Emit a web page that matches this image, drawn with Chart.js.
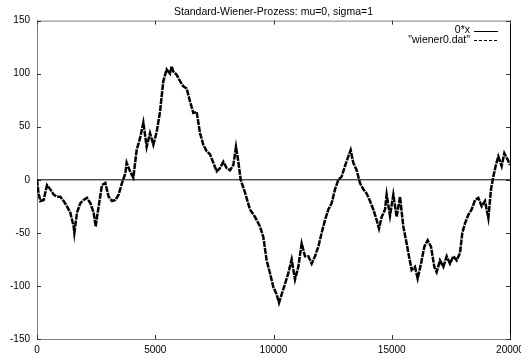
<!DOCTYPE html>
<html>
<head>
<meta charset="utf-8">
<script src="https://cdn.jsdelivr.net/npm/chart.js@4"></script>
<style>
  html, body { margin: 0; padding: 0; background: #fff; }
  #wrap { width: 521px; height: 362px; }
</style>
</head>
<body>
<div id="wrap"><canvas id="chartCanvas" width="521" height="362"></canvas></div>
<script>
// --- Daten ---
const titel = "Standard-Wiener-Prozess: mu=0, sigma=1";
const xTicks = [0, 5000, 10000, 15000, 20000];
const yTicks = [-150, -100, -50, 0, 50, 100, 150];
const nullLinieX = [0, 20000];
const nullLinieY = [0, 0];

const schritte = [
  0, 60, 141, 282, 423, 564, 705, 846, 987, 1128, 1268, 1409, 1550, 1579, 1691, 1832, 1973,
  2114, 2255, 2396, 2480, 2607, 2748, 2889, 3030, 3171, 3312, 3453, 3594, 3735,
  3791, 3932, 4073, 4214, 4355, 4496, 4637,
  4778, 4919, 5060, 5201, 5342, 5483, 5624, 5694, 5765, 5906, 6047, 6187, 6328, 6469, 6610,
  6751, 6892, 7033, 7174, 7315, 7456, 7597, 7738, 7879, 8020, 8161, 8302, 8414, 8513, 8612,
  8795, 9006, 9218,
  9429, 9570, 9711, 9852, 9993, 10134, 10233, 10345, 10486, 10627, 10768, 10909, 11050,
  11191, 11332, 11473, 11614, 11755, 11896, 12037, 12178, 12319, 12460, 12600, 12741, 12882,
  13023, 13164, 13263, 13375, 13516, 13657, 13798, 13939, 14080, 14221, 14363, 14461, 14574, 14715,
  14785, 14926, 15067, 15208, 15349, 15489, 15630, 15729, 15842, 15983, 16096, 16237, 16378,
  16519, 16660, 16800, 16899, 17040, 17181, 17322, 17463, 17604, 17745, 17886, 17984, 18097,
  18238, 18379, 18520, 18661, 18802, 18943, 19084, 19197, 19295, 19394, 19506, 19647, 19760,
  19901, 20000
];
const wiener = [
  0, -12, -20, -19, -5, -9, -14, -16, -16, -20, -25, -31, -44, -50, -31, -22, -19,
  -17, -22, -31, -44, -25, -5, -3, -16, -20, -19, -14, -3, 6,
  16, 8, 2, 28, 39, 54, 31,
  44, 33, 45, 64, 93, 104, 100, 107, 102, 99, 93, 88, 86, 74, 63,
  64, 44, 33, 27, 24, 16, 8, 11, 17, 11, 9, 14, 31, 17, 0,
  -12, -28, -35,
  -44, -54, -76, -88, -101, -108, -116, -108, -98, -88, -75, -94, -82,
  -60, -72, -72, -79, -72, -63, -50, -38, -28, -22, -9, 0, 3,
  13, 22, 28, 16, 9, -3, -9, -13, -20, -28, -38, -46, -35, -28,
  -14, -34, -14, -35, -16, -44, -60, -72, -85, -82, -93, -79, -63,
  -57, -63, -82, -87, -76, -82, -72, -79, -72, -76, -69, -50, -41,
  -33, -28, -19, -17, -25, -20, -36, -9, 3, 13, 22, 13, 25,
  19, 14
];

const schrift = "'Liberation Sans', Arial, Helvetica, sans-serif";

// --- Rahmen und Ticks im gnuplot-Stil ---
const rahmenPlugin = {
  id: "rahmen",
  beforeDatasetsDraw(chart) {
    const { ctx, chartArea: a, scales } = chart;
    ctx.save();
    ctx.lineWidth = 1;
    ctx.strokeStyle = "#808080";
    ctx.beginPath();
    ctx.moveTo(a.right, a.top + 0.5);
    ctx.lineTo(a.left + 0.5, a.top + 0.5);
    ctx.lineTo(a.left + 0.5, a.bottom + 0.5);
    ctx.lineTo(a.right, a.bottom + 0.5);
    ctx.stroke();
    ctx.strokeStyle = "#000";
    ctx.beginPath();
    ctx.moveTo(a.right + 0.5, a.top);
    ctx.lineTo(a.right + 0.5, a.bottom + 1);
    ctx.stroke();

    ctx.strokeStyle = "#333";
    const tl = 4;
    ctx.beginPath();
    xTicks.forEach(v => {
      const px = Math.round(scales.x.getPixelForValue(v)) + 0.5;
      ctx.moveTo(px, a.bottom);
      ctx.lineTo(px, a.bottom - tl);
      ctx.moveTo(px, a.top);
      ctx.lineTo(px, a.top + tl);
    });
    yTicks.forEach(v => {
      const py = Math.round(scales.y.getPixelForValue(v)) + 0.5;
      ctx.moveTo(a.left, py);
      ctx.lineTo(a.left + tl, py);
      ctx.moveTo(a.right, py);
      ctx.lineTo(a.right - tl, py);
    });
    ctx.stroke();
    ctx.restore();
  },
  afterDraw(chart) {
    // Legende wie bei gnuplot: Text rechtsbuendig, Linienmuster rechts daneben
    const { ctx, chartArea: a } = chart;
    ctx.save();
    ctx.font = "10.5px " + schrift;
    ctx.fillStyle = "#000";
    ctx.textAlign = "right";
    ctx.textBaseline = "middle";
    const xText = a.right - 40;
    const x1 = a.right - 36, x2 = a.right - 12;
    const zeilen = [
      { text: "0*x", y: a.top + 10, dash: [] },
      { text: "\"wiener0.dat\"", y: a.top + 19.5, dash: [3, 2] }
    ];
    zeilen.forEach(z => {
      ctx.fillText(z.text, xText, z.y);
      ctx.setLineDash(z.dash);
      ctx.strokeStyle = "#000";
      ctx.lineWidth = 1;
      ctx.beginPath();
      ctx.moveTo(x1, Math.round(z.y) + 0.5);
      ctx.lineTo(x2, Math.round(z.y) + 0.5);
      ctx.stroke();
    });
    ctx.restore();
  }
};

const canvas = document.getElementById("chartCanvas");
new Chart(canvas, {
  type: "line",
  data: {
    datasets: [
      {
        label: "\"wiener0.dat\"",
        data: schritte.map((s, i) => ({ x: s, y: wiener[i] })),
        borderColor: "#000",
        borderWidth: 2.5,
        borderDash: [6, 1],
        pointRadius: 0,
        tension: 0,
        order: 1
      },
      {
        label: "0*x",
        data: nullLinieX.map((s, i) => ({ x: s, y: nullLinieY[i] })),
        borderColor: "#000",
        borderWidth: 1,
        pointRadius: 0,
        order: 2
      }
    ]
  },
  plugins: [rahmenPlugin],
  options: {
    responsive: false,
    animation: false,
    layout: { padding: { top: 0, right: 11, bottom: 0, left: 0 } },
    plugins: {
      legend: { display: false },
      tooltip: { enabled: false },
      title: {
        display: true,
        text: titel,
        fullSize: false,
        color: "#000",
        font: { family: schrift, size: 10.5, weight: "normal" },
        padding: { top: 6, bottom: 2 }
      }
    },
    scales: {
      x: {
        type: "linear",
        min: 0,
        max: 20000,
        border: { display: false },
        grid: { display: false, drawTicks: false },
        afterBuildTicks: s => { s.ticks = xTicks.map(v => ({ value: v })); },
        afterFit: s => { s.height = 23; s.paddingLeft = 0; s.paddingRight = 0; },
        ticks: {
          color: "#000", padding: 5, maxRotation: 0,
          font: { family: schrift, size: 10 },
          callback: v => String(v)
        }
      },
      y: {
        min: -150,
        max: 150,
        border: { display: false },
        grid: { display: false, drawTicks: false },
        afterBuildTicks: s => { s.ticks = yTicks.map(v => ({ value: v })); },
        afterFit: s => { s.width = 37; s.paddingTop = 0; s.paddingBottom = 0; },
        ticks: { color: "#000", padding: 7, font: { family: schrift, size: 10 } }
      }
    }
  }
});
</script>
</body>
</html>
